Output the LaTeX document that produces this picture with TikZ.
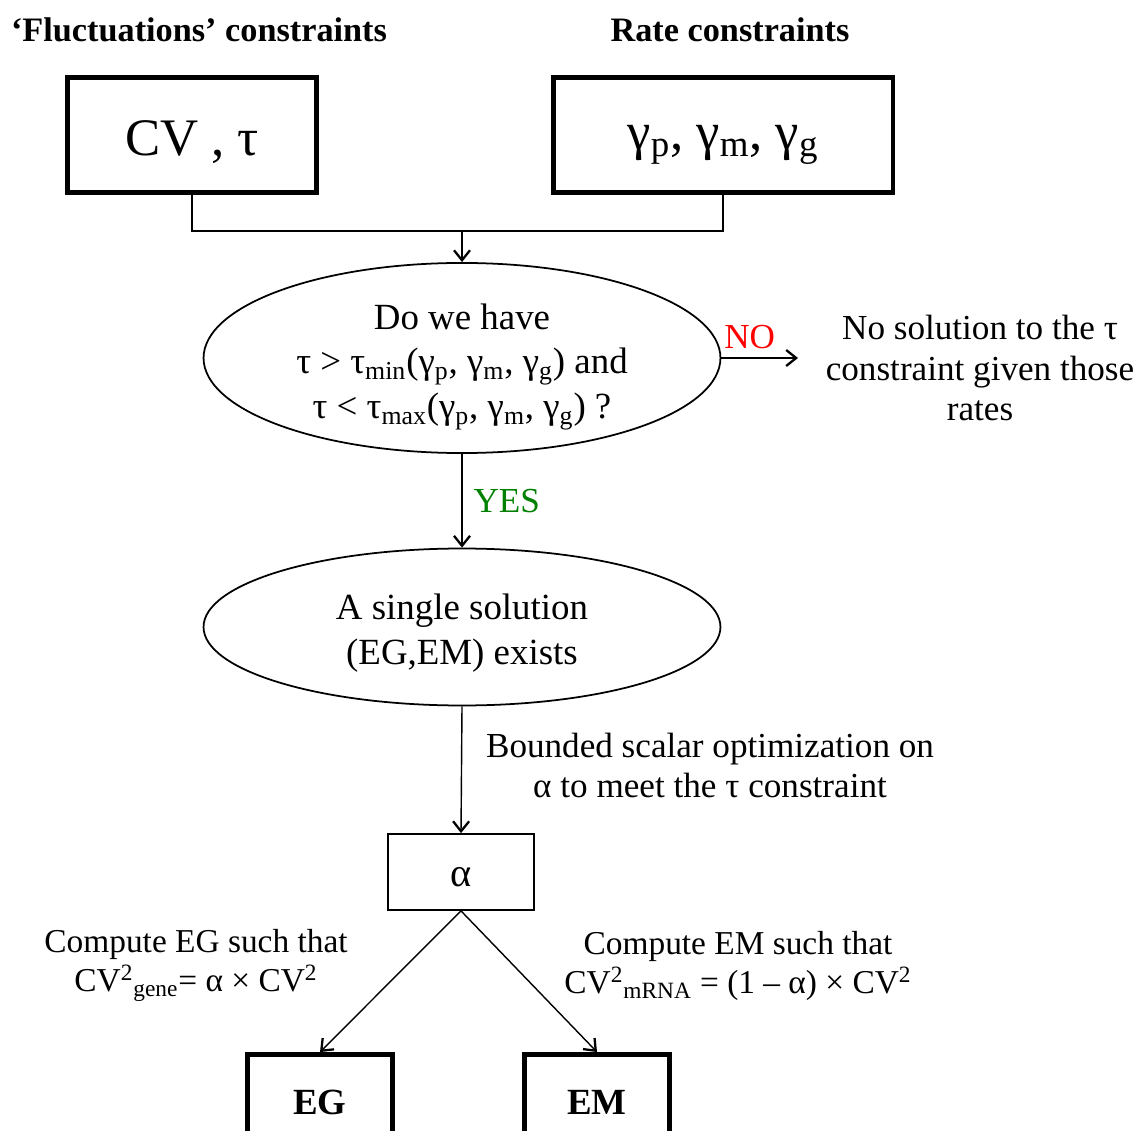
\documentclass[tikz,border=0pt]{standalone}
\usepackage{fontspec}
\setmainfont{Liberation Serif}
\usetikzlibrary{positioning,arrows.meta,shapes.geometric}
\newcommand{\tsub}[1]{\textsubscript{#1}}
\newcommand{\tsup}[1]{\textsuperscript{#1}}
\newcommand{\lowered}[2]{\raisebox{-#1}[\height][\depth]{#2}}
\definecolor{nored}{RGB}{255,0,0}
\definecolor{yesgreen}{RGB}{0,128,0}

\begin{document}
\begin{tikzpicture}[x=0.02cm,y=-0.02cm]
\tikzset{head/.style={font=\fontsize{19.5}{23}\selectfont\bfseries},
  inbox/.style={draw,line width=2.8pt,minimum height=2.3cm,font=\fontsize{30}{34}\selectfont},
  outbox/.style={draw,line width=2.8pt,minimum width=2.9cm,minimum height=1.9cm,font=\fontsize{21}{24}\selectfont\bfseries},
  test/.style={ellipse,draw,line width=1pt,minimum width=10.34cm,inner sep=0pt,align=center,font=\fontsize{21}{25.5}\selectfont},
  plain/.style={align=center,font=\fontsize{20}{23}\selectfont},
  rule/.style={align=center,font=\fontsize{19}{22.5}\selectfont},
  line/.style={line width=0.8pt},
  arr/.style={line, -{Straight Barb[length=2mm,width=3.2mm,line width=1.3pt]}}}
\clip (0,0) rectangle (1142,1131);
% inputs
\node[head] (hfluc) at (199,30) {‘Fluctuations’ constraints};
\node[head] (hrate) at (730,30) {Rate constraints};
\node[inbox,minimum width=4.98cm] (cv) at (192,135) {\lowered{0.14cm}{CV , τ}};
\node[inbox,minimum width=6.8cm] (rates) at (723,135) {\lowered{0.2cm}{γ\tsub{p}, γ\tsub{m}, γ\tsub{g}}};
\coordinate (join) at (462,231);
\draw[line] (cv.south) |- (join) -| (rates.south);
% test on tau
\node[test,minimum height=3.62cm] (check) at (462,358)
  {\lowered{0.14cm}{\begin{tabular}{@{}c@{}}Do we have\\ τ > τ\tsub{min}(γ\tsub{p}, γ\tsub{m}, γ\tsub{g}) and\\ τ < τ\tsub{max}(γ\tsub{p}, γ\tsub{m}, γ\tsub{g}) ?\end{tabular}}};
\draw[arr] (join) -- (check.north);
\node[plain] (nosol) at (980,368) {No solution to the τ\\ constraint given those\\ rates};
\coordinate (noend) at (798,358);
\draw[arr] (check.east) -- node[above,text=nored,font=\fontsize{20}{23}\selectfont,xshift=-0.2cm,yshift=0.05cm] (no) {NO} (noend);
% solution
\node[test,minimum height=3.14cm] (single) at (462,627)
  {\lowered{0.12cm}{\begin{tabular}{@{}c@{}}A single solution\\ (EG,EM) exists\end{tabular}}};
\draw[arr] (check.south) -- node[right,text=yesgreen,font=\fontsize{20}{23}\selectfont,xshift=0.1cm] (yes) {YES} (single.north);
\node[draw,line width=1pt,minimum width=2.92cm,minimum height=1.52cm,font=\fontsize{23}{26}\selectfont] (alpha) at (461,872) {\lowered{0.1cm}{α}};
\draw[arr] (single.south) -- node[plain,right,xshift=0.36cm,yshift=0.08cm] (optim) {Bounded scalar optimization on\\ α to meet the τ constraint} (alpha.north);
% split
\node[outbox] (eg) at (320,1102) {EG};
\node[outbox] (em) at (597,1102) {EM};
\draw[arr] (alpha.south) -- (eg.north);
\draw[arr] (alpha.south) -- (em.north);
\node[rule] (ruleg) at (196,965) {Compute EG such that\\ CV\tsup{2}\tsub{gene}= α × CV\tsup{2}};
\node[rule] (rulem) at (738,966) {Compute EM such that\\ CV\tsup{2}\tsub{mRNA} = (1 – α) × CV\tsup{2}};
\end{tikzpicture}
\end{document}
